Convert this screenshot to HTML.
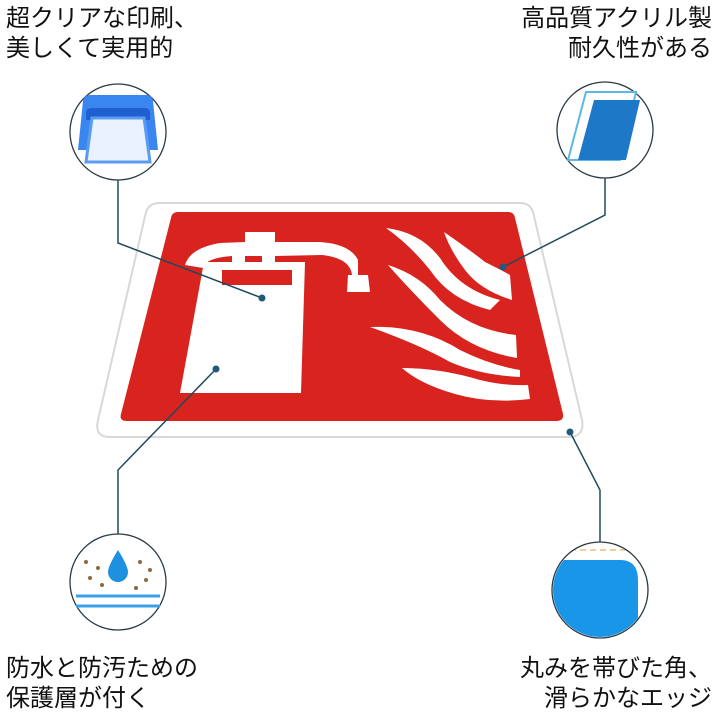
<!DOCTYPE html>
<html><head><meta charset="utf-8"><style>
body{margin:0;width:720px;height:720px;background:#fff;overflow:hidden}
.t{position:absolute;font-family:"Liberation Sans","Noto Sans CJK JP",sans-serif;font-size:24px;line-height:30px;color:#111;white-space:nowrap}
</style></head><body>
<svg width="720" height="720" style="position:absolute;left:0;top:0">
<path d="M160,203 L520,203 Q530,203 533,212 L582,420 Q585,437 568,437 L110,437 Q94,437 98,420 L146,212 Q149,203 160,203Z" fill="#fff" stroke="#d8d8d8" stroke-width="2"/>
<path d="M178,212 L508,212 Q514,212 515,218 L563,414 Q564,421 556,421 L127,421 Q119,421 121,414 L171,218 Q172,212 178,212Z" fill="#d8231e"/>
<g fill="#fff">
<path d="M204,262 L305,262 L301,393 L180,393Z"/>
<rect x="222" y="270" width="70" height="15" fill="#d8231e"/>
<path d="M185,265 Q190,248 220,243 L245,242 L245,232 L275,232 L275,242 L320,242 Q350,244 358,260 L358,275 L368,275 L370,292 L347,292 L348,275 L352,275 Q350,258 322,255 L275,256 L275,264 L262,264 L262,256 L245,256 L245,264 L232,264 L232,256 Q205,258 203,268Z"/>
</g>
<g fill="#fff">
<path d="M386,228 Q420,232 440,258 Q460,290 500,300 L490,310 Q450,300 430,270 Q410,245 386,228Z"/>
<path d="M444,232 Q470,250 485,262 Q505,272 510,275 L512,300 Q480,290 465,270 Q450,250 444,232Z"/>
<path d="M388,265 Q420,275 440,300 Q470,330 516,335 L517,358 Q470,350 440,320 Q410,290 388,265Z"/>
<path d="M370,327 Q420,325 460,350 Q490,365 520,370 L520,377 Q480,375 450,362 Q420,345 370,327Z"/>
<path d="M402,368 Q440,368 480,380 Q505,386 528,385 L530,399 Q490,404 455,394 Q420,384 402,368Z"/>
</g>
<g stroke="#1f4a5c" stroke-width="1.5" fill="none">
<polyline points="118,180 118,243 262,298"/>
<polyline points="605,178 605,215 503,267"/>
<polyline points="216,369 118,470 118,534"/>
<polyline points="570,432 600,490 600,542"/>
</g>
<g fill="#1f5a78"><circle cx="262" cy="298" r="3.5"/><circle cx="503" cy="267" r="3.5"/><circle cx="216" cy="369" r="3.5"/><circle cx="570" cy="432" r="3.5"/></g>
<g fill="#fff" stroke="#2a3a44" stroke-width="1.3">
<circle cx="118" cy="132" r="48"/><circle cx="605" cy="130" r="48"/>
<circle cx="118" cy="582" r="48"/><circle cx="600" cy="590" r="48"/>
</g>
<path d="M90,95 L146,95 Q152,95 153,101 L158,150 L78,150 L83,101 Q84,95 90,95Z" fill="#3a86f0"/>
<path d="M86,113 Q86,108 92,108 L144,108 Q150,108 150,113 L150,120 L86,120Z" fill="#1f5fd0"/>
<path d="M92,118 L144,118 L150,162 L86,162Z" fill="#eaf2ff" stroke="#5a9cf0" stroke-width="3"/>
<path d="M586,92 L636,92 L620,160 L568,160Z" fill="#fff" stroke="#5bb8e8" stroke-width="2"/>
<path d="M594,100 L640,100 L626,160 L578,160Z" fill="#1e78c8"/>
<path d="M118,550 Q108,566 108,572 A10,10 0 0 0 128,572 Q128,566 118,550Z" fill="#1e90e0"/>
<g fill="#8a6a3a"><circle cx="86" cy="562" r="2"/><circle cx="98" cy="568" r="2"/><circle cx="140" cy="562" r="2"/><circle cx="150" cy="570" r="2"/><circle cx="90" cy="578" r="2"/><circle cx="146" cy="580" r="2"/><circle cx="102" cy="585" r="2"/><circle cx="136" cy="588" r="2"/></g>
<line x1="76" y1="596" x2="160" y2="596" stroke="#3aa0e8" stroke-width="3"/>
<line x1="76" y1="606" x2="160" y2="606" stroke="#3aa0e8" stroke-width="3"/>
<clipPath id="c"><circle cx="600" cy="590" r="47"/></clipPath>
<g clip-path="url(#c)">
<path d="M540,560 L620,560 Q638,560 638,580 L638,650 L540,650Z" fill="#1a96e8"/>
<path d="M560,550 L628,550 Q648,550 648,572 L648,650" fill="none" stroke="#e8c070" stroke-width="1.5" stroke-dasharray="6,4"/>
</g>
</svg>
<div class="t" style="left:6px;top:4px">超クリアな印刷、<br>美しくて実用的</div>
<div class="t" style="right:8px;top:4px;text-align:right">高品質アクリル製<br>耐久性がある</div>
<div class="t" style="left:6px;top:654px">防水と防汚ための<br>保護層が付く</div>
<div class="t" style="right:8px;top:654px;text-align:right">丸みを帯びた角、<br>滑らかなエッジ</div>
</body></html>
